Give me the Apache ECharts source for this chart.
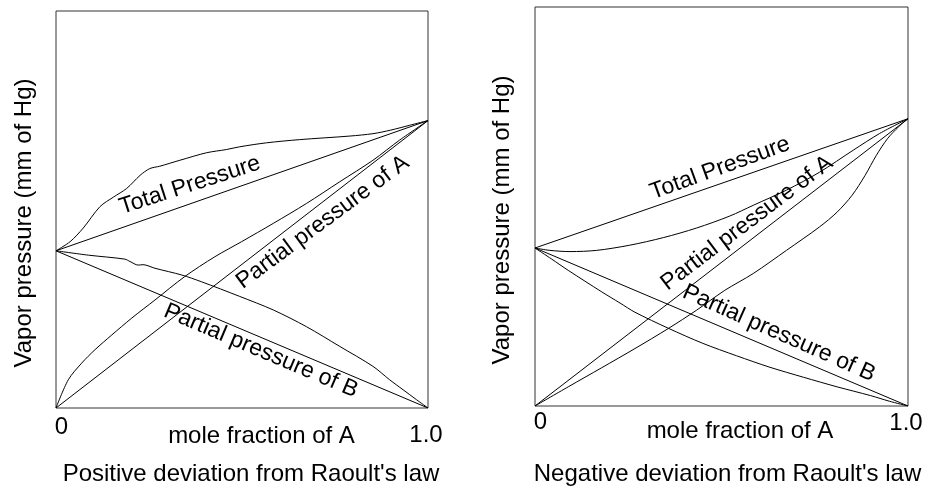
<!DOCTYPE html>
<html>
<head>
<meta charset="utf-8">
<script src="https://cdn.jsdelivr.net/npm/echarts@6/dist/echarts.min.js"></script>
<style>
html,body{margin:0;padding:0;background:#fff;}
#c{width:928px;height:490px;}
</style>
</head>
<body>
<div id="c"></div>
<script>
// ---------- data ----------
const xTickValues = [0, 1];
const xTickLabels = ['0', '1.0'];
const xAxisTitle = 'mole fraction of A';
const yAxisTitle = 'Vapor pressure (mm of Hg)';
const panelTitles = ["Positive deviation from Raoult's law", "Negative deviation from Raoult's law"];

// Positive deviation panel (x = mole fraction of A, y = vapor pressure, 0..100 frame)
const posIdealTotal = [[0, 39.6], [1, 72.4]];
const posIdealA = [[0, 0], [1, 72.4]];
const posIdealB = [[0, 39.6], [1, 0]];
const posTotal = [[0, 39.6], [0.038, 41.9], [0.073, 45.3], [0.118, 50.7], [0.154, 53.1], [0.19, 55.3], [0.226, 58.6], [0.252, 60.3], [0.279, 60.9], [0.333, 62.4], [0.405, 64.3], [0.458, 65.1], [0.494, 65.8], [0.566, 66.8], [0.655, 67.6], [0.79, 68.5], [0.852, 69.1], [0.9, 70.0], [0.95, 71.2], [1, 72.4]];
const posA = [[0, 0], [0.033, 7.1], [0.069, 11.3], [0.105, 14.7], [0.15, 18.4], [0.203, 22.6], [0.266, 27.2], [0.346, 33.1], [0.427, 38.1], [0.499, 41.9], [0.584, 46.5], [0.673, 51.5], [0.763, 57.0], [0.852, 62.4], [0.924, 67.5], [1, 72.4]];
const posB = [[0, 39.6], [0.087, 38.5], [0.185, 37.5], [0.199, 36.9], [0.221, 36.0], [0.234, 36.1], [0.266, 35.2], [0.338, 33.5], [0.391, 31.8], [0.494, 28.1], [0.584, 24.7], [0.673, 20.5], [0.763, 15.5], [0.852, 10.5], [0.897, 7.1], [0.933, 4.6], [0.969, 2.1], [1, 0]];

// Negative deviation panel
const negIdealTotal = [[0, 39.6], [1, 72.0]];
const negIdealA = [[0, 0], [1, 72.0]];
const negIdealB = [[0, 39.6], [1, 0]];
const negTotal = [[0, 39.6], [0.04, 39.0], [0.094, 38.7], [0.165, 39.0], [0.254, 40.3], [0.344, 42.2], [0.433, 44.6], [0.522, 47.6], [0.585, 50.3], [0.674, 54.1], [0.763, 58.6], [0.853, 64.1], [0.924, 68.3], [1, 72.0]];
const negA = [[0, 0], [0.089, 4.8], [0.179, 9.6], [0.268, 14.4], [0.357, 19.4], [0.433, 24.0], [0.509, 29.0], [0.585, 33.2], [0.674, 39.0], [0.763, 44.9], [0.81, 48.6], [0.85, 52.8], [0.885, 57.8], [0.915, 62.8], [0.945, 67.0], [0.975, 70.0], [1, 72.0]];
const negB = [[0, 39.6], [0.045, 36.8], [0.089, 34.0], [0.179, 28.6], [0.228, 25.8], [0.268, 23.5], [0.357, 19.5], [0.45, 15.7], [0.54, 12.6], [0.63, 9.7], [0.72, 7.2], [0.81, 4.8], [0.9, 2.6], [0.95, 1.2], [1, 0]];

// Curve annotations (text, panel, anchor in data coords, angle in degrees)
const curveLabels = [
  {text: 'Total Pressure', panel: 0, at: [0.36, 56.1], angle: 18},
  {text: 'Partial pressure of A', panel: 0, at: [0.717, 46.8], angle: 36.5},
  {text: 'Partial pressure of B', panel: 0, at: [0.551, 14.4], angle: -23},
  {text: 'Total Pressure', panel: 1, at: [0.496, 59.6], angle: 20},
  {text: 'Partial pressure of A', panel: 1, at: [0.568, 45.8], angle: 37},
  {text: 'Partial pressure of B', panel: 1, at: [0.654, 18.2], angle: -24}
];

// ---------- chart ----------
const FONT = "'Liberation Sans', Arial, Helvetica, sans-serif";
const chart = echarts.init(document.getElementById('c'), null, {renderer: 'canvas'});

const grids = [
  {left: 56, top: 11, width: 372, height: 397},
  {left: 535, top: 7, width: 373, height: 399}
];
const nameShift = [39, 37];
const yGap = [20, 21];
const labelMargin = [7, 4];
const bPad = [8, 1];

function xAxisFor(i) {
  return {
    type: 'value', gridIndex: i, min: 0, max: 1, interval: 1,
    axisLine: {show: false}, axisTick: {show: false}, splitLine: {show: false},
    axisLabel: {
      margin: labelMargin[i],
      formatter: v => {
        const k = xTickValues.indexOf(v);
        if (k < 0) return '';
        return k === 0 ? '{a|' + xTickLabels[0] + '}' : '{b|' + xTickLabels[1] + '}';
      },
      rich: {
        a: {fontSize: 24, fontFamily: FONT, color: '#000', padding: [0, 0, 0, 11]},
        b: {fontSize: 24, fontFamily: FONT, color: '#000', padding: [bPad[i], 4, 0, 0]}
      }
    },
    name: xAxisTitle, nameLocation: 'middle', nameGap: i === 0 ? 16 : 13,
    nameMoveOverlap: false,
    nameTextStyle: {fontSize: 24, fontFamily: FONT, color: '#000', padding: [0, 0, 0, nameShift[i]]}
  };
}
function yAxisFor(i) {
  return {
    type: 'value', gridIndex: i, min: 0, max: 100,
    axisLine: {show: false}, axisTick: {show: false}, splitLine: {show: false},
    axisLabel: {show: false},
    name: yAxisTitle, nameLocation: 'middle', nameGap: yGap[i], nameRotate: 90,
    nameMoveOverlap: false,
    nameTextStyle: {fontSize: 24, fontFamily: FONT, color: '#000', padding: [0, 27, 0, 0]}
  };
}
function lineSeries(data, i, smooth) {
  return {
    type: 'line', xAxisIndex: i, yAxisIndex: i, data: data,
    showSymbol: false, symbol: 'none', smooth: smooth ? 0.3 : false,
    lineStyle: {color: '#000', width: 1}, silent: true, animation: false, z: 3
  };
}

const option = {
  backgroundColor: '#fff',
  animation: false,
  title: [
    {text: panelTitles[0], left: 251, top: 462, textAlign: 'center', padding: 0,
     textStyle: {fontSize: 24, fontWeight: 'normal', fontFamily: FONT, color: '#000'}},
    {text: panelTitles[1], left: 727.5, top: 462, textAlign: 'center', padding: 0,
     textStyle: {fontSize: 24, fontWeight: 'normal', fontFamily: FONT, color: '#000'}}
  ],
  grid: grids.map(g => Object.assign({show: true, borderColor: '#333', borderWidth: 1, backgroundColor: 'transparent'}, g)),
  xAxis: [xAxisFor(0), xAxisFor(1)],
  yAxis: [yAxisFor(0), yAxisFor(1)],
  series: [
    lineSeries(posIdealTotal, 0, false),
    lineSeries(posIdealA, 0, false),
    lineSeries(posIdealB, 0, false),
    lineSeries(posTotal, 0, true),
    lineSeries(posA, 0, true),
    lineSeries(posB, 0, true),
    lineSeries(negIdealTotal, 1, false),
    lineSeries(negIdealA, 1, false),
    lineSeries(negIdealB, 1, false),
    lineSeries(negTotal, 1, true),
    lineSeries(negA, 1, true),
    lineSeries(negB, 1, true)
  ]
};
chart.setOption(option);

const graphics = curveLabels.map(l => {
  const p = chart.convertToPixel({gridIndex: l.panel}, l.at);
  return {
    type: 'text', x: p[0], y: p[1], rotation: l.angle * Math.PI / 180, z: 10,
    style: {text: l.text, font: '23px ' + FONT, fill: '#000', align: 'center', verticalAlign: 'middle'}
  };
});
chart.setOption({graphic: graphics});
</script>
</body>
</html>
